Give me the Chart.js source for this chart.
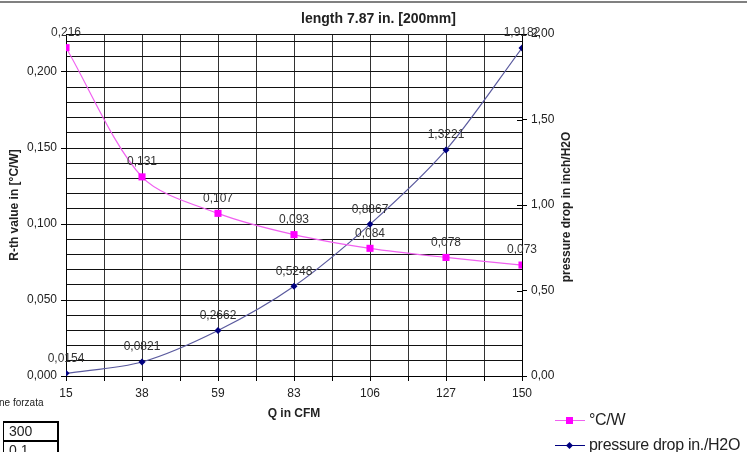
<!DOCTYPE html>
<html>
<head>
<meta charset="utf-8">
<script src="https://cdn.jsdelivr.net/npm/chart.js@4.4.0/dist/chart.umd.min.js"></script>
<style>
  html, body { margin: 0; padding: 0; background: #fff; }
  body { width: 747px; height: 452px; position: relative; overflow: hidden;
         font-family: "Liberation Sans", Arial, sans-serif; color: #222; }
  #chart { position: absolute; left: 0; top: 0; }
  #topRule { position: absolute; left: 0; top: 1px; width: 747px; height: 2px; background: #808080; }
  #title { position: absolute; left: 0; top: 10px; width: 757px; text-align: center;
           font-weight: bold; font-size: 14px; line-height: 16px; }
  #note { position: absolute; left: -1px; top: 397px; font-size: 10px; line-height: 12px; }
  #cells { position: absolute; left: 3px; top: 421px; border-collapse: collapse; }
  #cells td { border-top: 2px solid #000; border-right: 2px solid #000; border-left: 1px solid #000;
              width: 48px; height: 17px; padding: 0 0 0 5px; font-size: 14px; line-height: 17px; }
  #legend { position: absolute; left: 555px; top: 411px; }
  .item { height: 25px; display: flex; align-items: flex-start; font-size: 16px; line-height: 18px; letter-spacing: -0.3px; }
  .sw { position: relative; width: 30px; height: 18px; margin-right: 4px; }
  .sw .ln { position: absolute; left: 0; top: 9px; width: 30px; height: 1px; }
  .sw .mk { position: absolute; }
</style>
</head>
<body>
<div id="topRule"></div>
<canvas id="chart" width="747" height="452"></canvas>
<div id="title">length 7.87 in. [200mm]</div>
<div id="note">ne forzata</div>
<table id="cells"><tr><td>300</td></tr><tr><td>0,1</td></tr></table>
<div id="legend"></div>
<script>
const qCfm = [15, 38, 59, 83, 106, 127, 150];
const rthValues = [0.216, 0.131, 0.107, 0.093, 0.084, 0.078, 0.073];
const pressureValues = [0.0154, 0.0821, 0.2662, 0.5248, 0.8867, 1.3221, 1.9182];
const leftTickLabels = ['0,000', '0,050', '0,100', '0,150', '0,200'];
const rightTickLabels = ['0,00', '0,50', '1,00', '1,50', '2,00'];
const rthLabel = '°C/W';
const pressureLabel = 'pressure drop in./H2O';
const xAxisTitle = 'Q in CFM';
const leftAxisTitle = 'R-th value in [°C/W]';
const rightAxisTitle = 'pressure drop in inch/H2O';

const FONT = '"Liberation Sans", Arial, sans-serif';
Chart.defaults.font.family = FONT;
Chart.defaults.font.size = 12;
Chart.defaults.color = '#222';

const fmt = v => String(v).replace('.', ',');
const isMajor = v => Math.abs(v / 0.05 - Math.round(v / 0.05)) < 1e-6;

// value labels above each point
const pointLabels = {
    id: 'pointLabels',
    afterDatasetsDraw(chart) {
        const ctx = chart.ctx;
        ctx.save();
        ctx.font = '12px ' + FONT;
        ctx.fillStyle = '#333';
        ctx.textAlign = 'center';
        ctx.textBaseline = 'middle';
        chart.data.datasets.forEach((ds, i) => {
            chart.getDatasetMeta(i).data.forEach((pt, j) => {
                ctx.fillText(fmt(ds.data[j].y), pt.x, pt.y - 15);
            });
        });
        ctx.restore();
    }
};

// inner half of the cross ticks and the bottom-to-top title on the right axis
const rightAxisExtras = {
    id: 'rightAxisExtras',
    afterDraw(chart) {
        const s = chart.scales.y2;
        const ctx = chart.ctx;
        ctx.save();
        ctx.strokeStyle = '#000';
        ctx.lineWidth = 1;
        s.ticks.forEach(t => {
            const y = Math.round(s.getPixelForValue(t.value)) + 0.5;
            ctx.beginPath();
            ctx.moveTo(s.left - 5, y);
            ctx.lineTo(s.left, y);
            ctx.stroke();
        });
        const area = chart.chartArea;
        ctx.translate(s.left + 45, (area.top + area.bottom) / 2 + 2);
        ctx.rotate(-Math.PI / 2);
        ctx.font = 'bold 12px ' + FONT;
        ctx.fillStyle = '#222';
        ctx.textAlign = 'center';
        ctx.textBaseline = 'middle';
        ctx.fillText(rightAxisTitle, 0, 0);
        ctx.restore();
    }
};

new Chart(document.getElementById('chart'), {
    type: 'line',
    data: {
        datasets: [{
            label: rthLabel,
            data: rthValues.map((v, i) => ({ x: i, y: v })),
            yAxisID: 'y',
            borderColor: '#f060f0',
            borderWidth: 1.2,
            pointStyle: 'rect',
            pointRadius: 5,
            pointBackgroundColor: '#ff00ff',
            pointBorderColor: '#ff00ff',
            pointBorderWidth: 0,
            tension: 0.3
        }, {
            label: pressureLabel,
            data: pressureValues.map((v, i) => ({ x: i, y: v })),
            yAxisID: 'y2',
            borderColor: '#5a5a9e',
            borderWidth: 1.2,
            pointStyle: 'rectRot',
            pointRadius: 3.5,
            pointBackgroundColor: '#000080',
            pointBorderColor: '#000080',
            pointBorderWidth: 0,
            tension: 0.3
        }]
    },
    options: {
        responsive: false,
        animation: false,
        layout: { padding: { top: 34, left: 0, right: 171, bottom: 0 } },
        plugins: {
            legend: { display: false },
            tooltip: { enabled: false }
        },
        scales: {
            x: {
                type: 'linear',
                min: 0,
                max: 6,
                afterFit: s => { s.height = 76; },
                ticks: {
                    stepSize: 0.5,
                    autoSkip: false,
                    maxRotation: 0,
                    padding: 5,
                    color: '#222',
                    callback: v => Number.isInteger(v) ? String(qCfm[v]) : ''
                },
                grid: { color: '#333', lineWidth: 1, tickLength: 5, tickColor: '#000' },
                border: { display: true, color: '#000', width: 1 },
                title: {
                    display: true, text: xAxisTitle, color: '#222',
                    font: { size: 12, weight: 'bold' },
                    padding: { top: 0, bottom: 31 }
                }
            },
            y: {
                position: 'left',
                min: 0,
                max: 0.225,
                afterFit: s => { s.width = 66; },
                afterBuildTicks: s => {
                    const t = [];
                    for (let k = 0; k <= 22; k++) t.push({ value: k / 100 });
                    t.push({ value: 0.225 });
                    s.ticks = t;
                },
                ticks: {
                    autoSkip: false,
                    padding: 4,
                    color: '#222',
                    callback: v => isMajor(v) ? (leftTickLabels[Math.round(v / 0.05)] || '') : ''
                },
                grid: {
                    color: '#111',
                    lineWidth: 1,
                    tickLength: 5,
                    tickColor: c => (c.tick && isMajor(c.tick.value)) ? '#000' : 'rgba(0,0,0,0)'
                },
                border: { display: true, color: '#000', width: 1 },
                title: {
                    display: true, text: leftAxisTitle, color: '#222',
                    font: { size: 12, weight: 'bold' },
                    padding: { top: 7, bottom: 0 }
                }
            },
            y2: {
                position: 'right',
                min: 0,
                max: 2,
                afterFit: s => { s.width = 54; },
                ticks: {
                    stepSize: 0.5,
                    padding: 4,
                    color: '#222',
                    callback: v => rightTickLabels[Math.round(v / 0.5)]
                },
                grid: { drawOnChartArea: false, tickLength: 5, tickColor: '#000' },
                border: { display: true, color: '#000', width: 1 }
            }
        }
    },
    plugins: [pointLabels, rightAxisExtras]
});

// legend built from the same series names and colours
const legend = document.getElementById('legend');
[{ label: rthLabel, line: '#f060f0', mark: '#ff00ff', shape: 'sq' },
 { label: pressureLabel, line: '#000080', mark: '#000080', shape: 'dia' }].forEach(it => {
    const row = document.createElement('div');
    row.className = 'item';
    const sw = document.createElement('span');
    sw.className = 'sw';
    const ln = document.createElement('span');
    ln.className = 'ln';
    ln.style.background = it.line;
    const mk = document.createElement('span');
    mk.className = 'mk';
    mk.style.background = it.mark;
    if (it.shape === 'sq') {
        Object.assign(mk.style, { left: '11px', top: '6px', width: '7px', height: '7px' });
    } else {
        Object.assign(mk.style, { left: '12px', top: '7px', width: '5px', height: '5px', transform: 'rotate(45deg)' });
    }
    sw.appendChild(ln);
    sw.appendChild(mk);
    const tx = document.createElement('span');
    tx.textContent = it.label;
    row.appendChild(sw);
    row.appendChild(tx);
    legend.appendChild(row);
});
</script>
</body>
</html>
